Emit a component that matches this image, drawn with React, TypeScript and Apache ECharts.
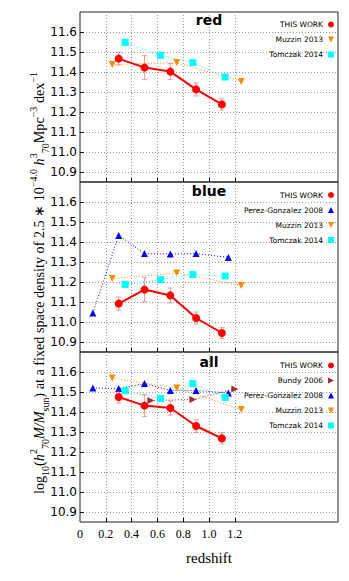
import React, { useEffect, useRef } from 'react';
import * as echarts from 'echarts';

// ---------- data ----------
const PANEL_TITLES = ['red', 'blue', 'all'];

const THIS_WORK_Z = [0.3, 0.5, 0.7, 0.9, 1.1];
const RED_THIS = [11.467, 11.422, 11.402, 11.313, 11.238];
const RED_ERR = [0.032, 0.06, 0.04, 0.033, 0.028];
const BLUE_THIS = [11.092, 11.162, 11.133, 11.02, 10.945];
const BLUE_ERR = [0.033, 0.06, 0.037, 0.03, 0.028];
const ALL_THIS = [11.475, 11.432, 11.42, 11.33, 11.268];
const ALL_ERR = [0.03, 0.055, 0.035, 0.032, 0.028];

const MUZZIN_Z = [0.25, 0.75, 1.25];
const RED_MUZZIN = [11.437, 11.447, 11.353];
const BLUE_MUZZIN = [11.217, 11.245, 11.183];
const ALL_MUZZIN = [11.57, 11.52, 11.412];

const TOMCZAK_Z = [0.35, 0.625, 0.875, 1.125];
const RED_TOMCZAK = [11.548, 11.483, 11.447, 11.375];
const BLUE_TOMCZAK = [11.188, 11.212, 11.237, 11.23];
const ALL_TOMCZAK = [11.507, 11.467, 11.542, 11.473];

const PEREZ_Z = [0.1, 0.3, 0.5, 0.7, 0.9, 1.15];
const BLUE_PEREZ = [11.045, 11.433, 11.342, 11.34, 11.342, 11.323];
const ALL_PEREZ = [11.52, 11.517, 11.542, 11.508, 11.508, 11.495];

const BUNDY_Z = [0.55, 0.875, 1.2];
const ALL_BUNDY = [11.458, 11.462, 11.515];

const X_LABELS = [0, 0.2, 0.4, 0.6, 0.8, 1.0, 1.2];
const X_TICKS = [0.2, 0.4, 0.6, 0.8, 1.0, 1.2];
const Y_TICKS = [10.9, 11.0, 11.1, 11.2, 11.3, 11.4, 11.5, 11.6];

const N_THIS = 'THIS WORK';
const N_BUNDY = 'Bundy 2006';
const N_PEREZ = 'Perez-Gonzalez 2008';
const N_MUZZIN = 'Muzzin 2013';
const N_TOMCZAK = 'Tomczak 2014';

const LEGENDS = [
  [N_THIS, N_MUZZIN, N_TOMCZAK],
  [N_THIS, N_PEREZ, N_MUZZIN, N_TOMCZAK],
  [N_THIS, N_BUNDY, N_PEREZ, N_MUZZIN, N_TOMCZAK],
];

// ---------- styles ----------
const COLORS: Record<string, string> = {
  [N_THIS]: '#ff0000',
  [N_BUNDY]: '#a52a2a',
  [N_PEREZ]: '#0000ff',
  [N_MUZZIN]: '#ff8c00',
  [N_TOMCZAK]: '#00ffff',
};
const DOWN_TRI = 'path://M0,0L10,0L5,10Z';
const RIGHT_TRI = 'path://M0,0L10,5L0,10Z';
const SYMBOLS: Record<string, string> = {
  [N_THIS]: 'circle',
  [N_BUNDY]: RIGHT_TRI,
  [N_PEREZ]: 'triangle',
  [N_MUZZIN]: DOWN_TRI,
  [N_TOMCZAK]: 'rect',
};
const SERIF = 'Liberation Serif';
const SANS = 'DejaVu Sans';
const ERR_COLOR = 'rgba(255,60,60,0.5)';
const GRID_TOP = 12;
const PANEL_H = 170;

function zip(xs: number[], ys: number[]) {
  return xs.map((x, i) => [x, ys[i]]);
}

function refSeries(name: string, panel: number, xs: number[], ys: number[]) {
  return {
    type: 'line',
    name,
    xAxisIndex: panel,
    yAxisIndex: panel,
    data: zip(xs, ys),
    symbol: SYMBOLS[name],
    symbolSize: 7,
    itemStyle: { color: COLORS[name] },
    lineStyle: { color: COLORS[name], width: 1, type: [1, 2] },
    z: 3,
    silent: true,
  };
}

function thisSeries(panel: number, ys: number[]) {
  return {
    type: 'line',
    name: N_THIS,
    xAxisIndex: panel,
    yAxisIndex: panel,
    data: zip(THIS_WORK_Z, ys),
    symbol: 'circle',
    symbolSize: 8,
    itemStyle: { color: COLORS[N_THIS] },
    lineStyle: { color: COLORS[N_THIS], width: 2 },
    z: 5,
    silent: true,
  };
}

function errSeries(panel: number, ys: number[], errs: number[]) {
  return {
    type: 'custom',
    name: 'err' + panel,
    xAxisIndex: panel,
    yAxisIndex: panel,
    data: THIS_WORK_Z.map((x, i) => [x, ys[i] - errs[i], ys[i] + errs[i]]),
    encode: { x: 0, y: [1, 2] },
    z: 4,
    silent: true,
    renderItem: (_params: any, api: any) => {
      const x = api.value(0);
      const lo = api.coord([x, api.value(1)]);
      const hi = api.coord([x, api.value(2)]);
      const w = 2.5;
      const st = { stroke: ERR_COLOR, lineWidth: 1 };
      return {
        type: 'group',
        children: [
          { type: 'line', shape: { x1: lo[0], y1: lo[1], x2: hi[0], y2: hi[1] }, style: st },
          { type: 'line', shape: { x1: lo[0] - w, y1: lo[1], x2: lo[0] + w, y2: lo[1] }, style: st },
          { type: 'line', shape: { x1: hi[0] - w, y1: hi[1], x2: hi[0] + w, y2: hi[1] }, style: st },
        ],
      };
    },
  };
}

function buildOption() {
  const grids = [0, 1, 2].map((i) => ({
    left: 80,
    right: 11,
    top: GRID_TOP + PANEL_H * i,
    height: PANEL_H,
    show: true,
    borderColor: '#222',
    borderWidth: 1,
    outerBoundsMode: 'none',
  }));
  const gridLine = { show: true, lineStyle: { color: '#999', width: 1, type: [1, 2] } };
  const xAxes = [0, 1, 2].map((i) => ({
    type: 'value',
    gridIndex: i,
    min: 0,
    max: 2,
    axisLine: { show: false },
    axisTick: { show: true, inside: true, length: 4, customValues: X_TICKS, lineStyle: { color: '#000' } },
    axisLabel: {
      show: i === 2,
      customValues: X_LABELS,
      formatter: (v: number) => (v === 0 ? '0' : v.toFixed(1)),
      fontFamily: SERIF,
      fontSize: 12,
      color: '#000',
      margin: 6,
    },
    splitLine: gridLine,
    name: i === 2 ? 'redshift' : '',
    nameLocation: 'middle',
    nameGap: 28,
    nameTextStyle: { fontFamily: SERIF, fontSize: 15, color: '#000' },
  }));
  const yAxes = [0, 1, 2].map((i) => ({
    type: 'value',
    gridIndex: i,
    min: 10.85,
    max: 11.7,
    axisLine: { show: false },
    axisTick: { show: true, inside: true, length: 4, customValues: Y_TICKS, lineStyle: { color: '#000' } },
    axisLabel: {
      customValues: Y_TICKS,
      formatter: (v: number) => v.toFixed(1),
      fontFamily: SANS,
      fontSize: 12,
      color: '#000',
      margin: 3,
    },
    splitLine: gridLine,
  }));

  const legends = [0, 1, 2].map((i) => ({
    orient: 'vertical',
    right: 15,
    top: [19.5, 190, 360.5][i],
    align: 'right',
    padding: 0,
    itemGap: 5,
    itemWidth: 6,
    itemHeight: 6,
    selectedMode: false,
    textStyle: { fontFamily: SANS, fontSize: 7.5, color: '#000', lineHeight: 10 },
    data: LEGENDS[i].map((n) => ({ name: n, icon: SYMBOLS[n] })),
  }));

  const series: any[] = [
    // red panel
    refSeries(N_MUZZIN, 0, MUZZIN_Z, RED_MUZZIN),
    refSeries(N_TOMCZAK, 0, TOMCZAK_Z, RED_TOMCZAK),
    errSeries(0, RED_THIS, RED_ERR),
    thisSeries(0, RED_THIS),
    // blue panel
    refSeries(N_PEREZ, 1, PEREZ_Z, BLUE_PEREZ),
    refSeries(N_MUZZIN, 1, MUZZIN_Z, BLUE_MUZZIN),
    refSeries(N_TOMCZAK, 1, TOMCZAK_Z, BLUE_TOMCZAK),
    errSeries(1, BLUE_THIS, BLUE_ERR),
    thisSeries(1, BLUE_THIS),
    // all panel
    refSeries(N_BUNDY, 2, BUNDY_Z, ALL_BUNDY),
    refSeries(N_PEREZ, 2, PEREZ_Z, ALL_PEREZ),
    refSeries(N_MUZZIN, 2, MUZZIN_Z, ALL_MUZZIN),
    refSeries(N_TOMCZAK, 2, TOMCZAK_Z, ALL_TOMCZAK),
    errSeries(2, ALL_THIS, ALL_ERR),
    thisSeries(2, ALL_THIS),
  ];

  const titleY = [20, 190.5, 361.5];
  const titles = PANEL_TITLES.map((t, i) => ({
    type: 'text',
    x: 209,
    y: titleY[i],
    z: 10,
    style: {
      text: t,
      fontFamily: SANS,
      fontWeight: 'bold',
      fontSize: 14,
      fill: '#000',
      align: 'center',
      verticalAlign: 'middle',
    },
  }));

  const MAIN = 14.2;
  const SMALL = 10;
  const ylabel = {
    type: 'text',
    x: 39,
    y: 283,
    rotation: Math.PI / 2,
    style: {
      text:
        '{n|log}{sub|10}{n|(}{i|h}{sup|2}{sub|70}{i|M/M}{sub|sun}{n|) at a fixed space density of 2.5 ∗ 10}{sup|−4.0}{n| }{i|h}{sup|3}{sub|70}{n|Mpc}{sup|−3}{n| dex}{sup|−1}',
      fontFamily: SERIF,
      fontSize: MAIN,
      align: 'center',
      verticalAlign: 'middle',
      fill: '#000',
      rich: {
        n: { fontFamily: SERIF, fontSize: MAIN, lineHeight: 22, verticalAlign: 'middle', fill: '#000' },
        i: { fontFamily: SERIF, fontSize: MAIN, fontStyle: 'italic', lineHeight: 22, verticalAlign: 'middle', fill: '#000' },
        sup: { fontFamily: SERIF, fontSize: SMALL, lineHeight: 12, verticalAlign: 'top', fill: '#000' },
        sub: { fontFamily: SERIF, fontSize: SMALL, lineHeight: 12, verticalAlign: 'bottom', fill: '#000' },
      },
    },
  };

  return {
    animation: false,
    backgroundColor: '#fff',
    grid: grids,
    xAxis: xAxes,
    yAxis: yAxes,
    legend: legends,
    series,
    graphic: [...titles, ylabel],
  };
}

export default function App() {
  const ref = useRef<HTMLDivElement>(null);
  useEffect(() => {
    if (!ref.current) return;
    const chart = echarts.init(ref.current, undefined, { renderer: 'svg' });
    chart.setOption(buildOption() as any);
    return () => chart.dispose();
  }, []);
  return (
    <div
      ref={ref}
      style={{ position: 'fixed', left: 0, top: 0, width: 349, height: 581, background: '#fff' }}
    />
  );
}
